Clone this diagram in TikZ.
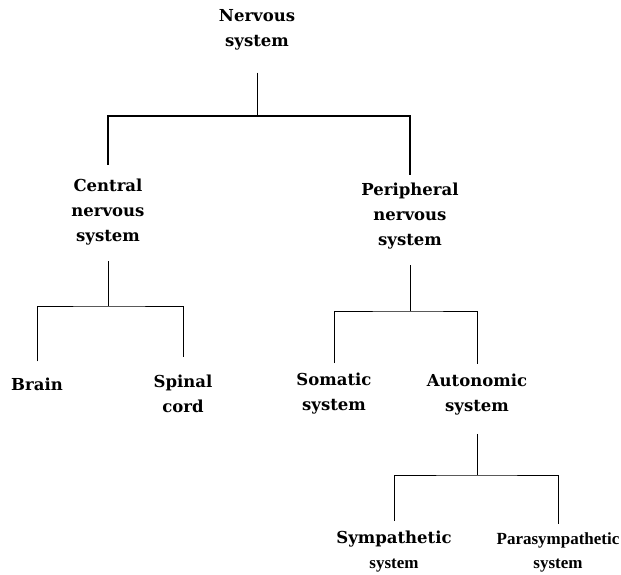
\documentclass[tikz,border=0pt]{standalone}
\usepackage{fontspec}
\setmainfont{DejaVu Serif}
\newfontfamily\timesfont{Liberation Serif}
\usetikzlibrary{positioning}

\begin{document}
\begin{tikzpicture}[x=1pt, y=-1pt,
    every node/.style={font=\fontsize{16.5}{25}\selectfont\bfseries,
                       align=center, inner sep=2pt},
    times/.style={font=\fontsize{17}{24}\selectfont\bfseries\timesfont},
    trunk/.style={line width=0.8pt},
    main/.style={line width=2.4pt},
  ]
  \useasboundingbox (0,0) rectangle (621,575);

  % labels
  \node (ns)     at (257,30)  {Nervous\\system};
  \node (cns)    at (108,212) {Central\\nervous\\system};
  \node (pns)    at (410,216) {Peripheral\\nervous\\system};
  \node (brain)  at (37,384)  {Brain};
  \node (spinal) at (183,394) {Spinal\\cord};
  \node (soma)   at (334,394) {Somatic\\system};
  \node (auto)   at (477,395) {Autonomic\\system};
  \node (symp)   at (394,552) {Sympathetic\\{\timesfont\fontsize{17}{24}\selectfont system}};
  \node[times] (para) at (558,552) {Parasympathetic\\system};

  % junctions
  \coordinate (nsj)   at (257,116);
  \coordinate (cnsj)  at (108,306);
  \coordinate (pnsj)  at (410,311);
  \coordinate (autoj) at (477,475);

  % branches
  \draw[trunk, shorten <=20pt] (ns) -- (nsj);
  \draw[main, shorten <=12pt, shorten >=6pt] (cns) |- (nsj) -| (pns);
  \draw[trunk, shorten <=14pt] (cns) -- (cnsj);
  \draw[trunk, shorten <=14pt, shorten >=16pt] (brain) |- (cnsj) -| (spinal);
  \draw[trunk, shorten <=14pt] (pns) -- (pnsj);
  \draw[trunk, shorten <=8pt, shorten >=8pt] (soma) |- (pnsj) -| (auto);
  \draw[trunk, shorten <=16pt] (auto) -- (autoj);
  \draw[trunk, shorten <=8pt, shorten >=6pt] (symp) |- (autoj) -| (para);
\end{tikzpicture}
\end{document}
